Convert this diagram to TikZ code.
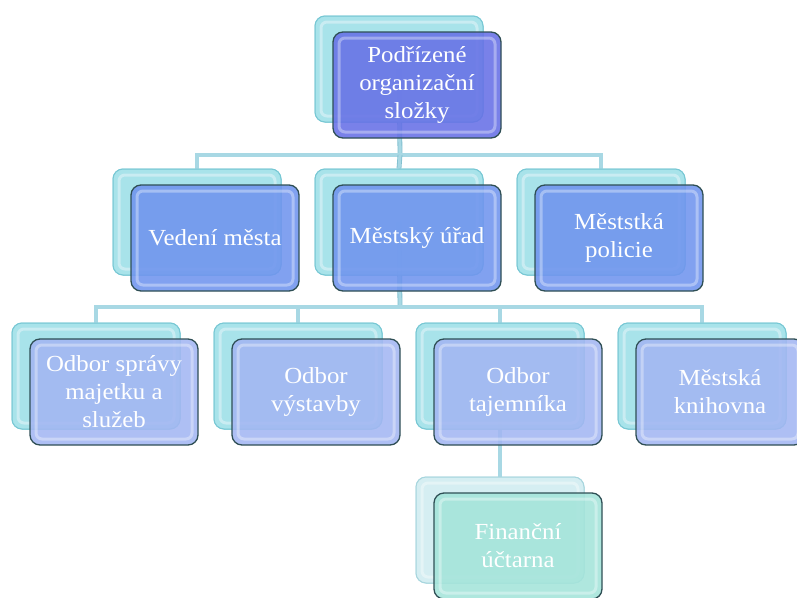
\documentclass[tikz,border=0pt]{standalone}
\usepackage{fontspec}
\setmainfont{Liberation Serif}[FakeStretch=1.08]
\begin{document}
\begin{tikzpicture}[x=1pt,y=-1pt,
  every node/.style={font=\fontsize{23}{28}\selectfont, text=white, align=center},
  boxbase/.style={rounded corners=10, minimum width=168, minimum height=106, inner sep=2pt,
    path picture={\draw[white, opacity=.35, line width=3, rounded corners=6]
      ([shift={(6pt,-6pt)}]path picture bounding box.north west) rectangle
      ([shift={(-6pt,6pt)}]path picture bounding box.south east);}},
  backbox/.style={boxbase, draw=cyanEdge, line width=1, fill=cyanFill, fill opacity=.85},
  backlight/.style={boxbase, draw=paleEdge, line width=1, fill=paleFill, fill opacity=.85},
  front/.style={boxbase, draw=darkEdge, line width=1.3, fill=#1, fill opacity=.88, text opacity=1},
  conn/.style={draw=connEdge, line width=.8, double=connFill, double distance=3.2}
]
\definecolor{cyanFill}{HTML}{A6E2EA}
\definecolor{cyanEdge}{HTML}{78C8D4}
\definecolor{paleFill}{HTML}{D4EEF2}
\definecolor{paleEdge}{HTML}{A8D6DE}
\definecolor{darkEdge}{HTML}{2F4F55}
\definecolor{topBlue}{HTML}{6670E6}
\definecolor{midBlue}{HTML}{6F94EE}
\definecolor{lowBlue}{HTML}{A3B6F2}
\definecolor{teal}{HTML}{A4E4DA}
\definecolor{connFill}{HTML}{A8D8E4}
\definecolor{connEdge}{HTML}{80BFCF}
\useasboundingbox (0,0) rectangle (797,597);

% back boxes positions (coordinates)
\coordinate (bus1) at (400,155);
\coordinate (bus2) at (400,307);

% ---- nodes: back boxes first for connectors
\path
  (399,69) coordinate (p0)
  (197,222) coordinate (p21) (399,222) coordinate (p22) (601,222) coordinate (p23)
  (96,376) coordinate (p31) (298,376) coordinate (p32) (500,376) coordinate (p33) (702,376) coordinate (p34)
  (500,530) coordinate (p41);

\node[backbox] (b0) at (p0) {};
\node[backbox] (b21) at (p21) {};
\node[backbox] (b22) at (p22) {};
\node[backbox] (b23) at (p23) {};
\node[backbox] (b31) at (p31) {};
\node[backbox] (b32) at (p32) {};
\node[backbox] (b33) at (p33) {};
\node[backbox] (b34) at (p34) {};
\node[backlight] (b41) at (p41) {};

% connectors
\begin{scope}[on background layer/.style={}]
\draw[conn] (b0.center) -- (bus1);
\draw[conn] (b21.north) |- (bus1) -| (b23.north);
\draw[conn] (bus1) -- (b22.north);
\draw[conn] (b22.center) -- (bus2);
\draw[conn] (b31.north) |- (bus2) -| (b34.north);
\draw[conn] (b32.north) |- (bus2);
\draw[conn] (bus2) -| (b33.north);
\draw[conn] (b33.center) -- (b41.north);
\end{scope}

% redraw back boxes above connectors
\node[backbox] at (p0) {};
\node[backbox] at (p21) {};
\node[backbox] at (p22) {};
\node[backbox] at (p23) {};
\node[backbox] at (p31) {};
\node[backbox] at (p32) {};
\node[backbox] at (p33) {};
\node[backbox] at (p34) {};
\node[backlight] at (p41) {};

% front boxes with text
\node[front=topBlue] (f0) at ([shift={(18pt,-16pt)}]p0) {Podřízené\\organizační\\složky};
\node[front=midBlue] (f21) at ([shift={(18pt,-16pt)}]p21) {Vedení města};
\node[front=midBlue] (f22) at ([shift={(18pt,-16pt)}]p22) {Městský úřad};
\node[front=midBlue] (f23) at ([shift={(18pt,-16pt)}]p23) {Měststká\\policie};
\node[front=lowBlue] (f31) at ([shift={(18pt,-16pt)}]p31) {Odbor správy\\majetku a\\služeb};
\node[front=lowBlue] (f32) at ([shift={(18pt,-16pt)}]p32) {Odbor\\výstavby};
\node[front=lowBlue] (f33) at ([shift={(18pt,-16pt)}]p33) {Odbor\\tajemníka};
\node[front=lowBlue] (f34) at ([shift={(18pt,-16pt)}]p34) {Městská\\knihovna};
\node[front=teal] (f41) at ([shift={(18pt,-16pt)}]p41) {Finanční\\účtarna};
\end{tikzpicture}
\end{document}
